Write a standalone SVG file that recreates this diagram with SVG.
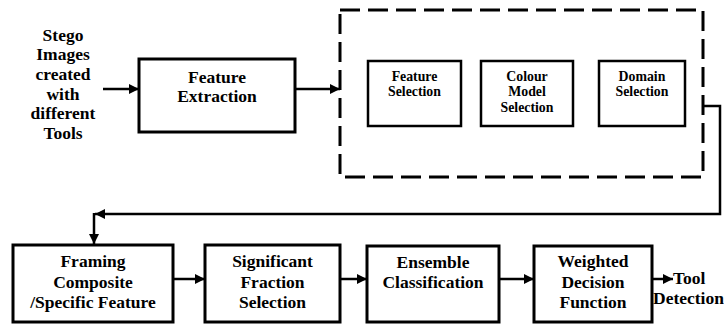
<svg xmlns="http://www.w3.org/2000/svg" width="724" height="327" viewBox="0 0 724 327">
<defs>
<marker id="ah" viewBox="0 0 10 10" refX="10" refY="5" markerWidth="10" markerHeight="10" markerUnits="userSpaceOnUse" orient="auto">
<path d="M0,0 L10,5 L0,10 Z" fill="#000"/>
</marker>
<style>
.box{fill:#fff;stroke:#000;stroke-width:3}
.ibox{fill:#fff;stroke:#000;stroke-width:2.5}
.dash{fill:none;stroke:#000;stroke-width:3;stroke-dasharray:20 8}
.t{font-weight:bold;font-size:17.5px;fill:#000;text-anchor:middle}
.ts{font-weight:bold;font-size:13.8px;fill:#000;text-anchor:middle}
.c{fill:none;stroke:#000;stroke-width:2.5}
</style>
</defs>
<rect width="724" height="327" fill="#fff"/>
<g font-family="'Liberation Serif', 'DejaVu Serif', serif">
<g id="input">
<text class="t" x="63" y="40.5">Stego</text>
<text class="t" x="63" y="60">Images</text>
<text class="t" x="63" y="80">created</text>
<text class="t" x="63" y="100">with</text>
<text class="t" x="63" y="119">different</text>
<text class="t" x="63" y="139">Tools</text>
</g>
<g id="feature-extraction">
<rect class="box" x="139" y="59" width="156" height="73"/>
<text class="t" x="217" y="82.5">Feature</text>
<text class="t" x="217" y="102">Extraction</text>
</g>
<g id="selection-group">
<rect class="dash" x="340" y="10" width="363" height="167"/>
</g>
<g id="feature-selection">
<rect class="ibox" x="368" y="61" width="93" height="65"/>
<text class="ts" x="414.5" y="81">Feature</text>
<text class="ts" x="414.5" y="96">Selection</text>
</g>
<g id="colour-model-selection">
<rect class="ibox" x="481" y="61" width="92" height="65"/>
<text class="ts" x="527" y="81">Colour</text>
<text class="ts" x="527" y="96">Model</text>
<text class="ts" x="527" y="111.5">Selection</text>
</g>
<g id="domain-selection">
<rect class="ibox" x="599" y="61" width="86" height="65"/>
<text class="ts" x="642" y="81">Domain</text>
<text class="ts" x="642" y="96">Selection</text>
</g>
<g id="framing">
<rect class="box" x="13" y="245" width="160" height="77"/>
<text class="t" x="93" y="267">Framing</text>
<text class="t" x="93" y="288">Composite</text>
<text class="t" x="93" y="308">/Specific Feature</text>
</g>
<g id="significant">
<rect class="box" x="205" y="245" width="135" height="77"/>
<text class="t" x="272.5" y="267">Significant</text>
<text class="t" x="272.5" y="288">Fraction</text>
<text class="t" x="272.5" y="308">Selection</text>
</g>
<g id="ensemble">
<rect class="box" x="367" y="246" width="132" height="76"/>
<text class="t" x="433" y="268">Ensemble</text>
<text class="t" x="433" y="288">Classification</text>
</g>
<g id="weighted">
<rect class="box" x="534" y="246" width="118" height="76"/>
<text class="t" x="593" y="267">Weighted</text>
<text class="t" x="593" y="288">Decision</text>
<text class="t" x="593" y="308">Function</text>
</g>
<g id="output">
<text class="t" x="673" y="284" text-anchor="start" style="text-anchor:start">Tool</text>
<text class="t" x="653" y="303.5" text-anchor="start" style="text-anchor:start">Detection</text>
</g>
</g>
<g id="connectors">
<line class="c" x1="103" y1="89" x2="139" y2="89" marker-end="url(#ah)"/>
<line class="c" x1="295" y1="89" x2="340" y2="89" marker-end="url(#ah)"/>
<polyline class="c" points="703,106 720,106 720,214 95,214" marker-end="url(#ah)"/>
<line class="c" x1="94" y1="213" x2="94" y2="244" marker-end="url(#ah)"/>
<line class="c" x1="173" y1="279" x2="205" y2="279" marker-end="url(#ah)"/>
<line class="c" x1="340" y1="279" x2="367" y2="279" marker-end="url(#ah)"/>
<line class="c" x1="499" y1="279" x2="534" y2="279" marker-end="url(#ah)"/>
<line class="c" x1="652" y1="279" x2="673" y2="279" marker-end="url(#ah)"/>
</g>
</svg>
